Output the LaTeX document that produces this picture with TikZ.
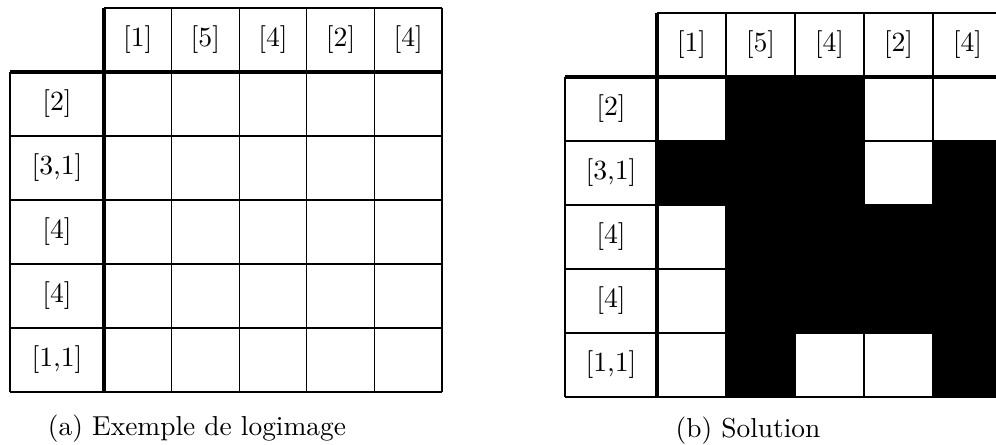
\documentclass[tikz,border=0pt]{standalone}
\begin{document}
\begin{tikzpicture}[x=0.02cm,y=-0.02cm,
  clue/.style={font=\fontsize{10}{12}\selectfont,scale=1.58,transform shape},
  caption/.style={font=\fontsize{10}{12}\selectfont,scale=1.56,transform shape},
  gridline/.style={line width=0.7pt},
  boldline/.style={line width=2.2pt}]
\useasboundingbox (0,0) rectangle (996,445);
\clip (0,0) rectangle (996,445);
% both grids: origin x/y, cell width, clue column width, name
\foreach \ox/\oy/\cw/\lw/\g in {104/72/67.6/94/A,657/77/69/92/B}{
  \begin{scope}[shift={(\ox,\oy)}]
  \ifnum\pdfstrcmp{\g}{B}=0
    % solution cells
    \foreach \c/\r in {2/1,3/1,1/2,2/2,3/2,5/2,2/3,3/3,4/3,5/3,2/4,3/4,4/4,5/4,2/5,5/5}
      \fill (\c*\cw-\cw,\r*64-64) rectangle ++(\cw,64);
  \fi
  \foreach \c in {1,...,5}
    \draw[gridline] (\c*\cw,-64) -- (\c*\cw,320);
  \foreach \r in {1,...,5}
    \draw[gridline] (-\lw,\r*64) -- (5*\cw,\r*64);
  \draw[gridline] (0,-64) -- (5*\cw,-64);
  \draw[gridline] (-\lw,0) -- (-\lw,320);
  \draw[boldline] (0,-64) -- (0,320);
  \draw[boldline] (-\lw,0) -- (5*\cw,0);
  \foreach \t [count=\i] in {{[1]},{[5]},{[4]},{[2]},{[4]}}
    \node[clue] (col\g\i) at (\i*\cw-\cw/2,-32) {\t};
  \foreach \t [count=\i] in {{[2]},{[3,1]},{[4]},{[4]},{[1,1]}}
    \node[clue] (row\g\i) at (-\lw/2,\i*64-32) {\t};
  \end{scope}
}
\node[caption] (captA) at (197,429) {(a) Exemple de logimage};
\node[caption] (captB) at (748,431) {(b) Solution};
\end{tikzpicture}
\end{document}
